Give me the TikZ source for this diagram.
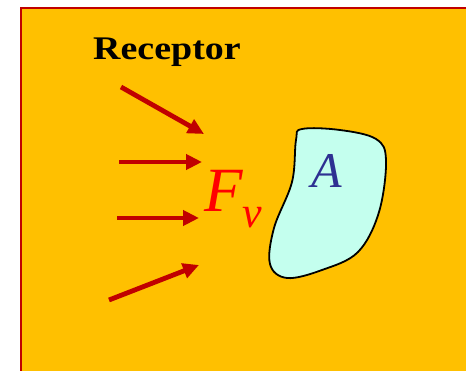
\documentclass[tikz,border=0pt]{standalone}
\usepackage{fontspec}
\usepackage{tikz}
\usetikzlibrary{arrows.meta, positioning}
\newfontfamily\timesfont{Liberation Serif}
\definecolor{bgorange}{HTML}{FFC000}
\definecolor{frame}{HTML}{C00000}
\definecolor{force}{HTML}{C00000}
\definecolor{blobfill}{HTML}{C4FFEE}
\definecolor{areablue}{HTML}{2E3192}

\begin{document}
\begin{tikzpicture}[
    x=1pt, y=-1pt,
    ray/.style={-{Triangle[length=16pt, width=15pt]}, line width=4.8pt, color=force},
    label/.style={inner sep=0pt, anchor=base west},
]
\useasboundingbox (0,0) rectangle (466,371);

% orange panel with red frame (top and left edges visible)
\fill[bgorange] (21,8) rectangle (466,371);
\draw[frame, line width=2pt] (21,371) -- (21,8) -- (466,8);

% title
\node[label, font=\timesfont\bfseries\fontsize{33}{33}\selectfont] (receptor) at (93,60)
  {\scalebox{1.15}[1]{Receptor}};

% incoming rays
\coordinate (r1s) at (121,87);  \coordinate (r1e) at (204,134);
\coordinate (r2s) at (119,162); \coordinate (r2e) at (202,162);
\coordinate (r3s) at (117,218); \coordinate (r3e) at (199,218);
\coordinate (r4s) at (109,300); \coordinate (r4e) at (199,265);
\foreach \i in {1,...,4}
  \draw[ray] (r\i s) -- (r\i e);

% force label
\node[label, text=red, font=\timesfont\itshape\fontsize{63}{63}\selectfont] (force) at (204,212)
  {F\raisebox{-16pt}{\fontsize{44}{44}\selectfont v}};

% area A
\draw[line width=1.8pt, fill=blobfill] plot[smooth cycle, tension=0.6] coordinates {
  (302,129) (340,130) (376,139) (386,160) (379,212) (358,252)
  (322,270) (287,278) (270,264) (274,228) (292,182) (296,140)};
\node[label, text=areablue, font=\timesfont\itshape\fontsize{50}{50}\selectfont] (area) at (311,188) {A};

\end{tikzpicture}
\end{document}
